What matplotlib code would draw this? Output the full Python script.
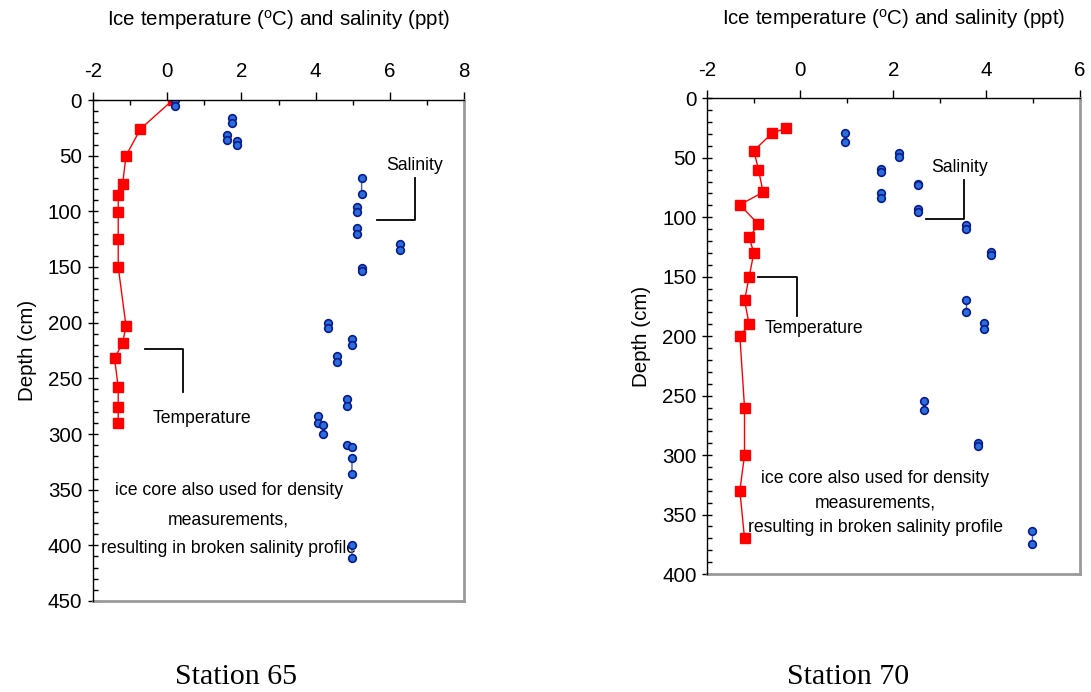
import numpy as np
import matplotlib
matplotlib.use("Agg")
import matplotlib.pyplot as plt
from matplotlib.ticker import MultipleLocator

plt.rcParams['font.family'] = ['Liberation Sans', 'DejaVu Sans']
plt.rcParams['mathtext.fontset'] = 'custom'
plt.rcParams['mathtext.rm'] = 'Liberation Sans'
plt.rcParams['axes.unicode_minus'] = False

nan = np.nan

# Station 65 - ice temperature (degC) vs depth (cm)
t65_depth = [0, 26, 50, 75, 85, 101, 125, 150, 203, 218, 232, 258, 276, 290]
t65_temp = [0.15, -0.72, -1.11, -1.2, -1.32, -1.32, -1.32, -1.32, -1.11, -1.2, -1.42, -1.32, -1.32, -1.32]

# Station 65 - salinity (ppt), top/bottom of each core section, nan = break
s65_sal = [0.2, 0.2, nan, 1.74, 1.74, nan, 1.61, 1.61, nan, 1.88, 1.88, nan,
           5.24, 5.24, nan, 5.11, 5.11, nan, 5.11, 5.11, nan, 6.27, 6.27, nan,
           5.24, 5.24, nan, 4.33, 4.33, nan, 4.98, 4.98, nan, 4.58, 4.58, nan,
           4.85, 4.85, nan, 4.07, 4.07, nan, 4.21, 4.21, nan, 4.85, 4.98, nan,
           4.98, 4.98, nan, 4.98, 4.98]
s65_depth = [0, 5, nan, 16, 21, nan, 31, 36, nan, 36.5, 40, nan,
             70, 84, nan, 96, 101, nan, 115, 120, nan, 129, 135, nan,
             151, 154, nan, 200, 204.5, nan, 215, 220, nan, 230, 235.5, nan,
             269, 274.6, nan, 284, 290, nan, 291.6, 300, nan, 310, 312, nan,
             322, 336, nan, 400, 411]

# Station 70 - ice temperature
t70_depth = [25, 29.5, 44, 60, 79, 89.5, 106, 117, 130, 150, 170, 190, 200, 260, 300, 330, 370]
t70_temp = [-0.31, -0.61, -1.0, -0.9, -0.8, -1.3, -0.9, -1.1, -1.0, -1.1, -1.2, -1.1, -1.3, -1.2, -1.2, -1.3, -1.2]

# Station 70 - salinity
s70_sal = [0.95, 0.95, nan, 2.12, 2.12, nan, 1.74, 1.74, nan, 2.52, 2.52, nan,
           1.74, 1.74, nan, 2.52, 2.52, nan, 3.56, 3.56, nan, 4.09, 4.09, nan,
           3.56, 3.56, nan, 3.95, 3.95, nan, 2.66, 2.66, nan, 3.81, 3.81, nan,
           4.98, 4.98]
s70_depth = [29.5, 36.5, nan, 46.3, 49, nan, 59.8, 61.7, nan, 72, 73, nan,
             79.4, 83.9, nan, 93.4, 95.4, nan, 106.6, 109.7, nan, 129.6, 131.5, nan,
             169.6, 179.7, nan, 189.3, 194.3, nan, 254.8, 262.4, nan, 289.6, 292.2, nan,
             363.7, 374.8]

note_lines = ['ice core also used for density', 'measurements,',
              'resulting in broken salinity profile']

FS = 14.8
AFS = 12.7
W, H = 1091, 692
fig = plt.figure(figsize=(W / 100, H / 100), dpi=100)


def make_panel(rect, xmax, ymax, temp, tdepth, sal, sdepth):
    ax = fig.add_axes(rect)
    ax.plot(temp, tdepth, color='#ff0000', lw=1, marker='s', ms=6.5,
            mec='#ff0000', mfc='#ff0000', zorder=3)
    ax.plot(sal, sdepth, color='#4a5ab0', lw=1, marker='o', ms=5.5,
            mfc='#2a6fd8', mec='#0a1a90', mew=1.2, zorder=4)
    ax.set_xlim(-2, xmax)
    ax.set_ylim(ymax, 0)
    ax.xaxis.tick_top()
    ax.xaxis.set_label_position('top')
    ax.xaxis.set_major_locator(MultipleLocator(2))
    ax.xaxis.set_minor_locator(MultipleLocator(1))
    ax.yaxis.set_major_locator(MultipleLocator(50))
    ax.yaxis.set_minor_locator(MultipleLocator(10))
    ax.tick_params(axis='x', which='major', direction='out', length=5.5,
                   width=1, pad=8, labelsize=FS, top=True, bottom=False)
    ax.tick_params(axis='x', which='minor', direction='in', length=3.5,
                   width=1, top=True, bottom=False)
    ax.tick_params(axis='y', which='major', direction='inout', length=7.5,
                   width=1, pad=4, labelsize=FS)
    ax.tick_params(axis='y', which='minor', direction='in', length=3.5, width=1)
    ax.set_xlabel(r'Ice temperature ($\mathregular{^o}$C) and salinity (ppt)',
                  fontsize=FS, labelpad=26)
    ax.set_ylabel('Depth (cm)', fontsize=FS, labelpad=8)
    for s in ('left', 'top'):
        ax.spines[s].set_color('black')
        ax.spines[s].set_linewidth(1)
        ax.spines[s].set_zorder(5)
    for s in ('right', 'bottom'):
        ax.spines[s].set_color('#9a9a9a')
        ax.spines[s].set_linewidth(2)
    return ax


# Station 65 panel
ax1 = make_panel([93 / W, 1 - 601 / H, 371 / W, 501 / H], 8, 450,
                 t65_temp, t65_depth, s65_sal, s65_depth)
ax1.text(6.68, 58.4, 'Salinity', ha='center', va='center', fontsize=AFS)
ax1.plot([5.66, 6.68, 6.68], [107.8, 107.8, 69.8], color='black', lw=1.3)
ax1.text(0.93, 286, 'Temperature', ha='center', va='center', fontsize=AFS)
ax1.plot([-0.61, 0.42, 0.42], [223.7, 223.7, 262], color='black', lw=1.3)
for line, d in zip(note_lines, [351, 377, 402.5]):
    ax1.text(1.66, d, line, ha='center', va='center', fontsize=AFS)

# Station 70 panel
ax2 = make_panel([707.3 / W, 1 - 574 / H, 372.2 / W, 475.7 / H], 6, 400,
                 t70_temp, t70_depth, s70_sal, s70_depth)
ax2.text(3.43, 58, 'Salinity', ha='center', va='center', fontsize=AFS)
ax2.plot([2.69, 3.52, 3.52], [101.8, 101.8, 68.7], color='black', lw=1.3)
ax2.text(0.30, 193.4, 'Temperature', ha='center', va='center', fontsize=AFS)
ax2.plot([-0.90, -0.065, -0.065], [150, 150, 182.8], color='black', lw=1.3)
for line, d in zip(note_lines, [319.6, 340.6, 360.8]):
    ax2.text(1.61, d, line, ha='center', va='center', fontsize=AFS)

fig.text(236 / W, 1 - 677 / H, 'Station 65', ha='center', va='center',
         fontsize=21.5, family='Liberation Serif')
fig.text(848 / W, 1 - 677 / H, 'Station 70', ha='center', va='center',
         fontsize=21.5, family='Liberation Serif')

fig.savefig('out.png', dpi=100, facecolor='white')
